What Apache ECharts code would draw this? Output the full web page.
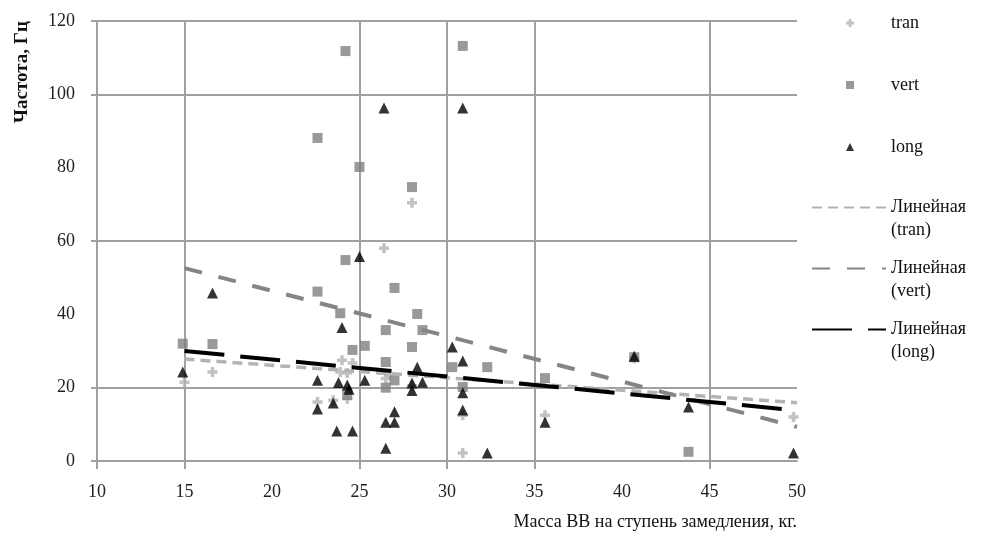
<!DOCTYPE html>
<html>
<head>
    <meta charset="UTF-8">
    <title>Частота</title>
    <script src="https://cdn.jsdelivr.net/npm/echarts@6/dist/echarts.min.js"></script>
    <style>
      html, body {
        margin: 0;
        padding: 0;
        background: #fff;
      }
      #container {
        width: 994px;
        height: 534px;
      }
    </style>
</head>
<body>
<div id="container"></div>
<script>
    // точки: [масса, частота]
    var tranPts = [[15, 21.5], [16.6, 24.3], [22.6, 16.1], [23.5, 16.6], [23.9, 24.3], [24, 27.5], [24.3, 24],
        [24.6, 26.7], [24.3, 17], [26.4, 58], [26.5, 22.5], [26.7, 23.5], [28, 70.4], [28, 20.5],
        [30.9, 2.2], [30.9, 12.5], [35.6, 12.5], [40.7, 28], [49.8, 12]]
    var vertPts = [[14.9, 32], [16.6, 31.9], [22.6, 88.1], [22.6, 46.2], [23.9, 40.3], [24.2, 54.8], [24.2, 111.8],
        [24.3, 18], [24.6, 30.3], [25, 80.2], [25.3, 31.4], [26.5, 35.7], [26.5, 27], [26.5, 20], [27, 47.2],
        [27, 22], [28, 74.7], [28, 31.1], [28.3, 40.1], [28.6, 35.7], [30.3, 25.6], [30.9, 113.2], [30.9, 20.2],
        [32.3, 25.6], [35.6, 22.6], [40.7, 28.3], [43.8, 2.5]]
    var longPts = [[14.9, 24.3], [16.6, 45.8], [22.6, 22], [22.6, 14.2], [23.5, 15.8], [23.8, 21.4], [23.7, 8.2],
        [24, 36.4], [24.3, 20.7], [24.4, 19.6], [24.6, 8.2], [25, 55.8], [25.3, 22], [26.4, 96.3], [26.5, 10.6],
        [26.5, 3.5], [27, 13.4], [27, 10.6], [28, 21.3], [28, 19.2], [28.3, 25.6], [28.6, 21.5], [30.3, 31.1],
        [30.9, 96.3], [30.9, 27.3], [30.9, 18.6], [30.9, 13.9], [32.3, 2.2], [35.6, 10.6], [40.7, 28.6],
        [43.8, 14.7], [49.8, 2.2]]

    // линейные тренды (концы)
    var trendX = [15, 50]
    var tranTrend = [27.8, 15.9]
    var vertTrend = [52.6, 9.3]
    var longTrend = [30, 13.8]

    // на картинке видны не все линии сетки - только эти
    var xTicks = [10, 15, 25, 30, 35, 45]
    var yTicks = [0, 20, 60, 100, 120]

    var font = 'Liberation Serif'
    var gridColor = '#a0a0a0'
    var plusIcon = 'path://M2.6,0H5.4V2.6H8V5.4H5.4V8H2.6V5.4H0V2.6H2.6Z'

    function pairs(ys) {
        var out = []
        for (var i = 0; i < trendX.length; i++) {
            out.push([trendX[i], ys[i]])
        }
        return out
    }

    var myChart = echarts.init(document.getElementById('container'))
    var option = {
        backgroundColor: '#fff',
        animation: false,
        textStyle: {fontFamily: font},
        grid: {left: 97, right: 197, top: 21, bottom: 73},
        graphic: [{
            type: 'text',
            x: 22,
            y: 72,
            rotation: Math.PI / 2,
            style: {
                text: 'Частота, Гц',
                font: 'bold 19px "Liberation Serif"',
                fill: '#111',
                align: 'center',
                verticalAlign: 'middle'
            }
        }],
        legend: [{
            orient: 'vertical',
            left: 841,
            top: 7,
            itemWidth: 8,
            itemHeight: 8,
            itemGap: 40,
            data: ['tran', 'vert', 'long'],
            textStyle: {fontFamily: font, fontSize: 18, color: '#111', lineHeight: 22, padding: [0, 0, 0, 32]}
        }, {
            orient: 'vertical',
            left: 806,
            top: 168,
            itemWidth: 74,
            itemHeight: 10,
            itemGap: -8,
            itemStyle: {opacity: 0},
            data: ['Линейная (tran)', 'Линейная (vert)', 'Линейная (long)'],
            formatter: function (name) {
                // пустая строка сверху, чтобы значок стоял напротив первой строки
                return '\n' + name.replace(' ', '\n')
            },
            textStyle: {fontFamily: font, fontSize: 18, color: '#111', lineHeight: 23}
        }],
        xAxis: {
            type: 'value',
            min: 10,
            max: 50,
            interval: 5,
            name: 'Масса ВВ на ступень замедления, кг.',
            nameLocation: 'end',
            nameGap: 0,
            nameTextStyle: {
                fontFamily: font, fontSize: 18, color: '#111',
                align: 'right', verticalAlign: 'top', padding: [52, 0, 0, 0]
            },
            axisLine: {lineStyle: {color: gridColor, width: 2}},
            axisTick: {show: true, length: 8, customValues: xTicks, lineStyle: {color: gridColor, width: 2}},
            axisLabel: {fontFamily: font, fontSize: 18, color: '#222', margin: 22},
            splitLine: {show: true, lineStyle: {width: 2, color: gridColor}}
        },
        yAxis: {
            type: 'value',
            min: 0,
            max: 120,
            interval: 20,
            axisLine: {show: true, lineStyle: {color: gridColor, width: 2}},
            axisTick: {show: true, length: 6, customValues: yTicks, lineStyle: {color: gridColor, width: 2}},
            axisLabel: {fontFamily: font, fontSize: 18, color: '#222', margin: 22},
            splitLine: {show: true, lineStyle: {width: 2, color: gridColor}}
        },
        series: [
            {
                name: 'tran',
                type: 'scatter',
                symbol: plusIcon,
                symbolSize: 10,
                itemStyle: {color: '#b3b3b3'},
                data: tranPts
            },
            {
                name: 'vert',
                type: 'scatter',
                symbol: 'rect',
                symbolSize: 10,
                itemStyle: {color: '#808080'},
                data: vertPts
            },
            {
                name: 'long',
                type: 'scatter',
                symbol: 'triangle',
                symbolSize: 11,
                itemStyle: {color: '#000'},
                data: longPts
            },
            {
                name: 'Линейная (tran)',
                type: 'line',
                symbol: 'none',
                z: 5,
                itemStyle: {color: '#b3b3b3'},
                lineStyle: {color: '#b3b3b3', width: 3.5, type: [10, 6]},
                data: pairs(tranTrend)
            },
            {
                name: 'Линейная (vert)',
                type: 'line',
                symbol: 'none',
                z: 5,
                itemStyle: {color: '#858585'},
                lineStyle: {color: '#858585', width: 4, type: [18, 17]},
                data: pairs(vertTrend)
            },
            {
                name: 'Линейная (long)',
                type: 'line',
                symbol: 'none',
                z: 5,
                itemStyle: {color: '#000'},
                lineStyle: {color: '#000', width: 4, type: [40, 16]},
                data: pairs(longTrend)
            }
        ]
    }
    myChart.setOption(option)
</script>
</body>
</html>
